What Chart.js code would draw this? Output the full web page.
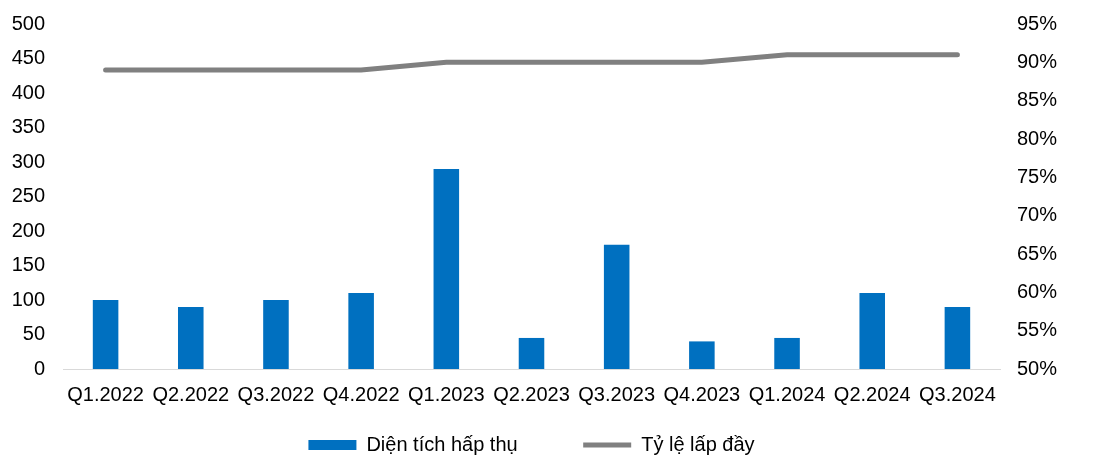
<!DOCTYPE html>
<html>
<head>
<meta charset="utf-8">
<script src="https://cdn.jsdelivr.net/npm/chart.js@4/dist/chart.umd.min.js"></script>
<style>
  html, body { margin: 0; padding: 0; background: #fff; }
  #wrap { width: 1100px; height: 455px; }
</style>
</head>
<body>
<div id="wrap"><canvas id="absorbChart"></canvas></div>
<script>
const quarters = ["Q1.2022", "Q2.2022", "Q3.2022", "Q4.2022", "Q1.2023", "Q2.2023",
                  "Q3.2023", "Q4.2023", "Q1.2024", "Q2.2024", "Q3.2024"];
const absorbed = [100, 90, 100, 110, 290, 45, 180, 40, 45, 110, 90];
const occupancy = [89, 89, 89, 89, 90, 90, 90, 90, 91, 91, 91];

Chart.defaults.font.family = "'Liberation Sans', Arial, sans-serif";
Chart.defaults.font.size = 20;
Chart.defaults.color = "#000";

// legend sits a bit lower in the original, closer to the bottom edge
const legendNudge = {
    id: "legendNudge",
    afterLayout(chart) {
        const lg = chart.legend;
        lg.top += 10;
        lg.bottom += 10;
    }
};

const fitSide = (w) => (s) => {
    s.width = w;
    s.paddingTop = 0;
    s.paddingBottom = 0;
};

const ctx = document.getElementById("absorbChart");

new Chart(ctx, {
    type: "bar",
    data: {
        labels: quarters,
        datasets: [
            {
                label: "Diện tích hấp thụ",
                data: absorbed,
                backgroundColor: "#0070C0",
                borderWidth: 0,
                barPercentage: 0.3,
                categoryPercentage: 1,
                pointStyle: "rect",
                yAxisID: "y"
            },
            {
                type: "line",
                label: "Tỷ lệ lấp đầy",
                data: occupancy,
                borderColor: "#808080",
                backgroundColor: "#808080",
                borderWidth: 5,
                borderCapStyle: "round",
                pointRadius: 0,
                pointStyle: "line",
                tension: 0,
                yAxisID: "y1"
            }
        ]
    },
    options: {
        responsive: true,
        maintainAspectRatio: false,
        animation: false,
        layout: { padding: { top: 24, left: 0, right: 0, bottom: 0 } },
        plugins: {
            tooltip: { enabled: false },
            legend: {
                position: "bottom",
                fullSize: false,
                labels: {
                    usePointStyle: true,
                    pointStyleWidth: 48,
                    boxHeight: 10,
                    padding: 10,
                    color: "#000",
                    generateLabels(chart) {
                        const items = Chart.defaults.plugins.legend.labels.generateLabels(chart);
                        items[0].text += "\u2003\u2003\u2002 ";
                        return items;
                    }
                }
            }
        },
        scales: {
            x: {
                grid: { display: false, drawTicks: false },
                border: { display: true, color: "#d9d9d9", width: 1 },
                ticks: { padding: 14, maxRotation: 0, autoSkip: false },
                afterFit: (s) => { s.height = 46; }
            },
            y: {
                position: "left",
                min: 0,
                max: 500,
                grid: { display: false, drawTicks: false },
                border: { display: false },
                ticks: { stepSize: 50, padding: 18 },
                afterFit: fitSide(63)
            },
            y1: {
                position: "right",
                min: 50,
                max: 95,
                grid: { display: false, drawTicks: false },
                border: { display: false },
                ticks: { stepSize: 5, padding: 17, callback: (v) => v + "%" },
                afterFit: fitSide(100)
            }
        }
    },
    plugins: [legendNudge]
});
</script>
</body>
</html>
